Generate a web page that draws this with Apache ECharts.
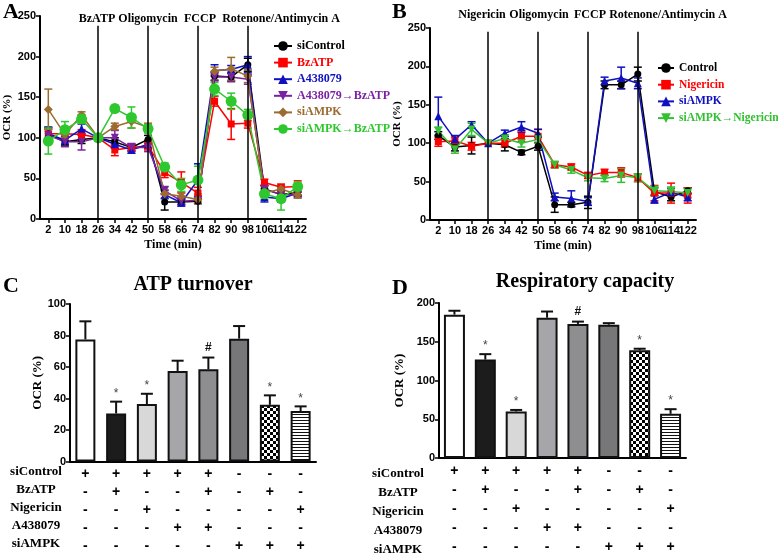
<!DOCTYPE html>
<html>
<head>
<meta charset="utf-8">
<script src="https://cdn.jsdelivr.net/npm/echarts@6/dist/echarts.min.js"></script>
<style>html,body{margin:0;padding:0;background:#fff}#c{width:778px;height:557px}</style>
</head>
<body>
<div id="c"></div>
<script>
// ---------- DATA ----------
const timeCats = ['2','10','18','26','34','42','50','58','66','74','82','90','98','106','114','122'];
const eventTimes = ['26','50','74','98'];
const eventsA = ['BzATP','Oligomycin','FCCP','Rotenone/Antimycin A'];
const eventsB = ['Nigericin','Oligomycin','FCCP','Rotenone/Antimycin A'];

// Panel A
const aSiControl    = [105, 95, 98,100, 95, 88, 98, 21, 21, 22,176,175,190, 37, 30, 33];
const aSiControlErr = [  8,  5,  5,  0,  5,  4,  5, 10,  3,  3,  5,  5,  8,  4,  4,  4];
const aBzATP        = [105,105,104,100, 85, 88, 90, 57, 45, 32,145,117,118, 45, 39, 40];
const aBzATPErr     = [  6,  8,  6,  0,  7,  4,  5,  6, 13,  7,  6, 19,  6,  4,  4,  7];
const aA438079      = [105, 97,111,100, 92, 85, 92, 30, 20, 48,183,184,190, 27, 25, 32];
const aA438079Err   = [  8,  5,  6,  0,  5,  4,  5,  5,  4, 20,  7,  5, 10,  6,  4,  4];
const aA4BzATP      = [103, 95, 95,100,100, 88, 88, 35, 22, 23,175,175,172, 37, 30, 30];
const aA4BzATPErr   = [  8,  6, 10,  0,  9,  5,  5,  5,  4,  4,  5,  6,  6,  5,  5,  4];
const aSiAMPK       = [135,104,128,100,114,120,113, 31, 28, 24,182,185,176, 32, 37, 30];
const aSiAMPKErr    = [ 25,  5,  4,  0,  4,  8,  5,  5,  5,  5,  5, 14,  8,  5,  4,  4];
const aSiBzATP      = [ 96,110,123,100,136,125,111, 64, 42, 48,160,145,128, 31, 25, 40];
const aSiBzATPErr   = [ 16, 10,  5,  0,  4, 13,  5,  5,  8, 17,  8, 10,  7,  7, 14,  5];

// Panel B
const bControl      = [110, 95, 97,100, 98, 88, 96, 20, 20, 23,176,176,190, 37, 30, 38];
const bControlErr   = [  5,  5, 11,  0,  8,  3,  5, 10,  3,  8,  5,  5,  9,  5,  5,  4];
const bNigericin    = [102,103, 96,100,100,109,109, 72, 69, 58, 62, 62, 55, 35, 35, 32];
const bNigericinErr = [  6,  5,  5,  0,  5,  7,  9,  4,  4,  4,  4,  6,  5, 10, 13, 10];
const bSiAMPK       = [135,105,124,100,113,121,113, 30, 28, 24,181,185,178, 27, 36, 30];
const bSiAMPKErr    = [ 25,  5,  4,  0,  4,  7,  5,  5, 10,  5,  5, 14,  7,  5,  5,  5];
const bSiNig        = [116, 92,118,100,106,100,105, 72, 65, 55, 54, 58, 55, 38, 37, 35];
const bSiNigErr     = [  5,  5,  8,  0,  5,  5,  5,  4,  4,  4,  4,  9,  5,  6,  6,  6];

// Panels C & D
const groups = ['G1','G2','G3','G4','G5','G6','G7','G8'];
const rowNames = ['siControl','BzATP','Nigericin','A438079','siAMPK'];
const rowSiControl = ['+','+','+','+','+','-','-','-'];
const rowBzATP     = ['-','+','-','-','+','-','+','-'];
const rowNigericin = ['-','-','+','-','-','-','-','+'];
const rowA438079   = ['-','-','-','+','+','-','-','-'];
const rowSiAMPK    = ['-','-','-','-','-','+','+','+'];
const atpTurnover    = [77.5, 30.5, 36.5, 57.5, 58.5, 78, 36, 32];
const atpTurnoverErr = [11.5, 7.5, 6.5, 6.5, 7.5, 8, 6, 3];
const respCap        = [185, 127, 60, 181, 173, 172, 139, 57];
const respCapErr     = [5, 7, 2, 8, 3, 2, 2, 6];
const sigC = ['', '*', '*', '', '#', '', '*', '*'];
const sigD = ['', '*', '*', '', '#', '', '*', '*'];

// ---------- STYLE HELPERS ----------
const SERIF = 'Liberation Serif';
const SANS = 'Liberation Sans';
function checker() {
  const c = document.createElement('canvas'); c.width = 6; c.height = 6;
  const g = c.getContext('2d'); g.fillStyle = '#fff'; g.fillRect(0,0,6,6);
  g.fillStyle = '#000'; g.fillRect(0,0,3,3); g.fillRect(3,3,3,3); return c;
}
function stripes() {
  const c = document.createElement('canvas'); c.width = 4; c.height = 3;
  const g = c.getContext('2d'); g.fillStyle = '#fff'; g.fillRect(0,0,4,3);
  g.fillStyle = '#111'; g.fillRect(0,0,4,1); return c;
}
const barFills = ['#ffffff','#1c1c1c','#d8d8d8','#a6a6aa','#8e8e90','#77777a',
  {image: checker(), repeat: 'repeat'}, {image: stripes(), repeat: 'repeat'}];

function lineS(name, vals, color, symbol, size, idx) {
  return {type:'line', name, data: vals, xAxisIndex: idx, yAxisIndex: idx,
    symbol, symbolSize: size, z: 4,
    lineStyle:{color, width:1.5}, itemStyle:{color}, emphasis:{disabled:true}, animation:false};
}
function errS(vals, errs, color, idx, o) {
  return {type:'custom', xAxisIndex: idx, yAxisIndex: idx, z: o.z || 3, silent: true, clip: false,
    animation:false,
    data: vals.map((v,i)=>[i, v, errs[i]]), encode:{x:0, y:1},
    renderItem(params, api) {
      const i = api.value(0), v = api.value(1), e = api.value(2);
      const ch = [];
      const st = {stroke: color, lineWidth: o.lw};
      const hw = o.cap/2;
      const t = api.coord([i, v+e]);
      if (e > 0) {
        const b = api.coord([i, o.up ? v : v-e]);
        ch.push({type:'line', shape:{x1:t[0],y1:t[1],x2:b[0],y2:b[1]}, style:st});
        ch.push({type:'line', shape:{x1:t[0]-hw,y1:t[1],x2:t[0]+hw,y2:t[1]}, style:st});
        if (!o.up) ch.push({type:'line', shape:{x1:b[0]-hw,y1:b[1],x2:b[0]+hw,y2:b[1]}, style:st});
      }
      const s = o.sig ? o.sig[params.dataIndex] : '';
      if (s) ch.push({type:'text', style:{text:s, x:t[0], y: t[1] - (s==='*'?2:4), align:'center', verticalAlign:'bottom',
        font: s==='*' ? '12px '+SANS : 'bold 12px '+SANS, fill: s==='*' ? '#444' : '#111'}});
      return {type:'group', children: ch};
    }};
}
function eventLines(idx, top) {
  return {type:'line', data: [], xAxisIndex: idx, yAxisIndex: idx, z: 6, silent: true,
    markLine:{symbol:'none', silent:true, animation:false, label:{show:false},
      lineStyle:{color:'#000', width:1.5, type:'solid'},
      data: eventTimes.map(t => [{xAxis: t, yAxis: 0}, {xAxis: t, yAxis: top}])}};
}
function catAxis(idx, data, name) {
  return {type:'category', gridIndex: idx, data, boundaryGap: true,
    axisLine:{lineStyle:{color:'#000', width:2}},
    axisTick:{show:true, alignWithLabel:true, length:4, lineStyle:{width:1.5, color:'#000'}},
    axisLabel:{interval:0, color:'#000', fontFamily:SANS, fontWeight:'bold', fontSize:11, margin:5},
    name, nameLocation:'middle', nameGap:20,
    nameTextStyle:{fontFamily:SERIF, fontWeight:'bold', fontSize:12, color:'#000'}};
}
function valAxis(idx, max, interval, gap, nameSize) {
  return {type:'value', gridIndex: idx, min:0, max, interval,
    axisLine:{show:true, lineStyle:{color:'#000', width:2}},
    axisTick:{show:true, length:4, lineStyle:{width:1.5, color:'#000'}},
    splitLine:{show:false},
    axisLabel:{color:'#000', fontFamily:SANS, fontWeight:'bold', fontSize:11, margin:4},
    name:'OCR (%)', nameLocation:'middle', nameGap: gap,
    nameTextStyle:{fontFamily:SERIF, fontWeight:'bold', fontSize:nameSize, color:'#000'}};
}
function rowAxis(idx, lh) {
  return {type:'category', gridIndex: idx, data: groups, boundaryGap: true,
    axisLine:{lineStyle:{color:'#000', width:2}}, axisTick:{show:false},
    axisLabel:{interval:0, color:'#000', fontFamily:SANS, fontWeight:'bold', fontSize:14,
      lineHeight: lh, margin: 4,
      formatter: (v, i) => [rowSiControl[i], rowBzATP[i], rowNigericin[i], rowA438079[i], rowSiAMPK[i]].join('\n')}};
}
function txt(text, x, y, size, align) {
  return {type:'text', x, y, style:{text, font:'bold '+size+'px '+SERIF, fill:'#000',
    align: align || 'center', verticalAlign:'middle'}};
}

const graphics = [
  txt('A', 3, 12, 22, 'left'), txt('B', 392, 12, 22, 'left'),
  txt('C', 3, 286, 22, 'left'), txt('D', 392, 288, 22, 'left'),
  txt(eventsA[0], 97, 19, 12), txt(eventsA[1], 148, 19, 12), txt(eventsA[2], 200, 19, 12), txt(eventsA[3], 281, 19, 12),
  txt(eventsB[0], 482, 15, 12), txt(eventsB[1], 539, 15, 12), txt(eventsB[2], 590, 15, 12), txt(eventsB[3], 668, 15, 12),
  txt('ATP turnover', 193, 285, 20), txt('Respiratory capacity', 585, 282, 20)
];
rowNames.forEach((n, k) => {
  graphics.push(txt(n, 36, 472 + k*18, 13));
  graphics.push(txt(n, 398, 474 + k*19, 13));
});

const option = {
  backgroundColor:'#fff', animation:false,
  grid:[
    {left:40, top:16, width:266, height:203},
    {left:430, top:28, width:266, height:192},
    {left:70, top:304, width:246, height:157.5},
    {left:439, top:303, width:247, height:157.5}
  ],
  xAxis:[catAxis(0, timeCats, 'Time (min)'), catAxis(1, timeCats, 'Time (min)'), rowAxis(2, 18), rowAxis(3, 19)],
  yAxis:[valAxis(0, 250, 50, 27, 11), valAxis(1, 250, 50, 27, 11), valAxis(2, 100, 20, 26, 13), valAxis(3, 200, 50, 33, 13)],
  legend:[
    {left:268, top:35, orient:'vertical', itemGap:4.6, itemWidth:18, itemHeight:12,
      textStyle:{fontFamily:SERIF, fontWeight:'bold', fontSize:12},
      data:[{name:'siControl', textStyle:{color:'#000'}}, {name:'BzATP', textStyle:{color:'#f00'}},
        {name:'A438079', textStyle:{color:'#1010c0'}}, {name:'A438079→BzATP', textStyle:{color:'#7a22a0'}},
        {name:'siAMPK', textStyle:{color:'#9c6b30'}}, {name:'siAMPK→BzATP', textStyle:{color:'#2ec82e'}}]},
    {left:652, top:57, orient:'vertical', itemGap:4.7, itemWidth:16, itemHeight:12,
      formatter: n => n.trim(),
      textStyle:{fontFamily:SERIF, fontWeight:'bold', fontSize:11.5},
      data:[{name:'Control', textStyle:{color:'#000'}}, {name:'Nigericin', textStyle:{color:'#f00'}},
        {name:'siAMPK ', textStyle:{color:'#1010c0'}}, {name:'siAMPK→Nigericin', textStyle:{color:'#33c033'}}]}
  ],
  graphic: graphics,
  series:[
    errS(aSiControl, aSiControlErr, '#000', 0, {cap:8, lw:1.5}),
    errS(aBzATP, aBzATPErr, '#f00', 0, {cap:8, lw:1.5}),
    errS(aA438079, aA438079Err, '#1010c0', 0, {cap:8, lw:1.5}),
    errS(aA4BzATP, aA4BzATPErr, '#7a22a0', 0, {cap:8, lw:1.5}),
    errS(aSiAMPK, aSiAMPKErr, '#9c6b30', 0, {cap:8, lw:1.5}),
    errS(aSiBzATP, aSiBzATPErr, '#2ec82e', 0, {cap:8, lw:1.5}),
    lineS('siControl', aSiControl, '#000', 'circle', 7, 0),
    lineS('BzATP', aBzATP, '#f00', 'rect', 7, 0),
    lineS('A438079', aA438079, '#1010c0', 'triangle', 8, 0),
    lineS('A438079→BzATP', aA4BzATP, '#7a22a0', 'path://M0,0 L10,0 L5,9 Z', 8, 0),
    lineS('siAMPK', aSiAMPK, '#9c6b30', 'diamond', 9, 0),
    lineS('siAMPK→BzATP', aSiBzATP, '#2ec82e', 'circle', 11, 0),
    eventLines(0, 238),

    errS(bControl, bControlErr, '#000', 1, {cap:8, lw:1.5}),
    errS(bNigericin, bNigericinErr, '#f00', 1, {cap:8, lw:1.5}),
    errS(bSiAMPK, bSiAMPKErr, '#1010c0', 1, {cap:8, lw:1.5}),
    errS(bSiNig, bSiNigErr, '#33c033', 1, {cap:8, lw:1.5}),
    lineS('Control', bControl, '#000', 'circle', 7, 1),
    lineS('Nigericin', bNigericin, '#f00', 'rect', 7, 1),
    lineS('siAMPK ', bSiAMPK, '#1010c0', 'triangle', 8, 1),
    lineS('siAMPK→Nigericin', bSiNig, '#33c033', 'path://M0,0 L10,0 L5,9 Z', 8, 1),
    eventLines(1, 245),

    {type:'bar', name:'ATP turnover', xAxisIndex:2, yAxisIndex:2, barWidth:20, z:2, animation:false,
      data: atpTurnover.map((v,i)=>({value:v, itemStyle:{color: barFills[i]}})),
      itemStyle:{borderColor:'#111', borderWidth:2}},
    errS(atpTurnover, atpTurnoverErr, '#111', 2, {cap:12, lw:2, up:true, sig:sigC, z:1}),
    {type:'bar', name:'Respiratory capacity', xAxisIndex:3, yAxisIndex:3, barWidth:21, z:2, animation:false,
      data: respCap.map((v,i)=>({value:v, itemStyle:{color: barFills[i]}})),
      itemStyle:{borderColor:'#111', borderWidth:2}},
    errS(respCap, respCapErr, '#111', 3, {cap:12, lw:2, up:true, sig:sigD, z:1})
  ]
};
const chart = echarts.init(document.getElementById('c'), null, {renderer:'canvas'});
chart.setOption(option);
</script>
</body>
</html>
